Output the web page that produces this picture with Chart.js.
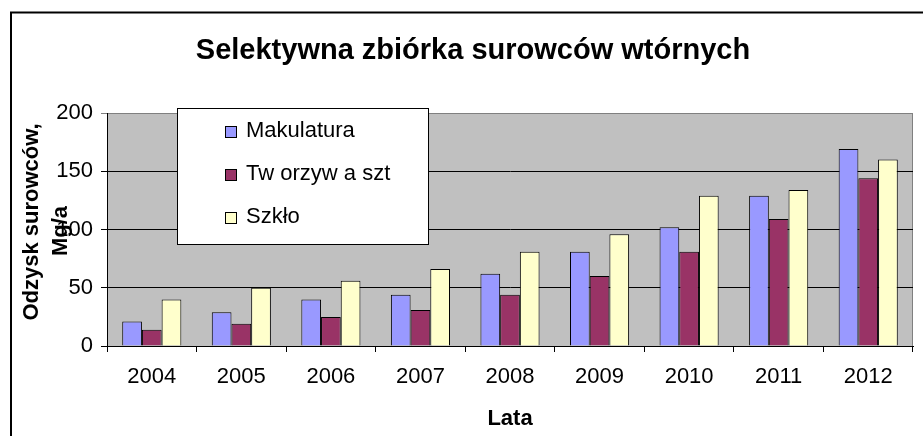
<!DOCTYPE html>
<html>
<head>
<meta charset="utf-8">
<script src="https://cdn.jsdelivr.net/npm/chart.js@4.4.1/dist/chart.umd.min.js"></script>
<style>
  html, body { margin: 0; padding: 0; background: #fff; }
  canvas { display: block; }
</style>
</head>
<body>
<canvas id="chart" width="923" height="436"></canvas>
<script>
const years = ["2004", "2005", "2006", "2007", "2008", "2009", "2010", "2011", "2012"];
const makulatura = [21, 29, 40, 44, 62, 81, 102, 129, 169];
const tworzywa = [14, 19, 25, 31, 44, 60, 81, 109, 144];
const szklo = [40, 50, 56, 66, 81, 96, 129, 134, 160];
const seriesNames = ["Makulatura", "Tw orzyw a szt", "Szkło"];
const seriesColors = ["#9999FF", "#993366", "#FFFFCC"];

const FONT = '"Liberation Sans", Arial, sans-serif';

// frame, plot background, titles and the legend box
const excelLook = {
  id: "excelLook",
  beforeDraw(chart) {
    const ctx = chart.ctx;
    const a = chart.chartArea;
    ctx.save();
    ctx.fillStyle = "#fff";
    ctx.fillRect(0, 0, chart.width, chart.height);
    ctx.strokeStyle = "#000";
    ctx.lineWidth = 2;
    ctx.strokeRect(11, 12.5, 1000, 1000);
    ctx.fillStyle = "#C0C0C0";
    ctx.fillRect(a.left, a.top, a.right - a.left, a.bottom - a.top);
    ctx.strokeStyle = "#808080";
    ctx.lineWidth = 1;
    ctx.strokeRect(a.left + 0.5, a.top + 0.5, a.right - a.left - 1, a.bottom - a.top);
    ctx.restore();
  },
  afterDraw(chart) {
    const ctx = chart.ctx;
    const a = chart.chartArea;
    ctx.save();
    ctx.fillStyle = "#000";
    ctx.textAlign = "center";
    ctx.textBaseline = "middle";

    ctx.font = "bold 29px " + FONT;
    ctx.fillText("Selektywna zbiórka surowców wtórnych", 473, 51);

    ctx.font = "bold 22px " + FONT;
    ctx.fillText("Lata", (a.left + a.right) / 2, 419);

    ctx.save();
    ctx.translate(32, 222);
    ctx.rotate(-Math.PI / 2);
    ctx.fillText("Odzysk surowców,", 0, 0);
    ctx.restore();
    ctx.save();
    ctx.translate(61, 231);
    ctx.rotate(-Math.PI / 2);
    ctx.fillText("Mg/a", 0, 0);
    ctx.restore();

    // legend
    const lx = 177, ly = 108, lw = 251, lh = 136;
    ctx.fillStyle = "#fff";
    ctx.fillRect(lx, ly, lw, lh);
    ctx.strokeStyle = "#000";
    ctx.lineWidth = 1;
    ctx.strokeRect(lx + 0.5, ly + 0.5, lw, lh);
    ctx.font = "22px " + FONT;
    ctx.textAlign = "left";
    chart.data.datasets.forEach((ds, i) => {
      const cy = 131 + i * 43;
      ctx.fillStyle = ds.backgroundColor;
      ctx.fillRect(225, cy - 5, 11, 11);
      ctx.strokeStyle = "#000";
      ctx.strokeRect(225.5, cy - 4.5, 11, 11);
      ctx.fillStyle = "#000";
      ctx.fillText(ds.label, 246, cy);
    });
    ctx.restore();
  }
};

new Chart(document.getElementById("chart"), {
  type: "bar",
  data: {
    labels: years,
    datasets: [
      { label: seriesNames[0], data: makulatura, backgroundColor: seriesColors[0] },
      { label: seriesNames[1], data: tworzywa, backgroundColor: seriesColors[1] },
      { label: seriesNames[2], data: szklo, backgroundColor: seriesColors[2] }
    ]
  },
  options: {
    responsive: false,
    animation: false,
    devicePixelRatio: 1,
    layout: { padding: { left: 0, top: 113, right: 10, bottom: 0 } },
    datasets: {
      bar: {
        categoryPercentage: 0.66,
        barPercentage: 1.0,
        borderWidth: 1,
        borderColor: "#000"
      }
    },
    plugins: {
      legend: { display: false },
      title: { display: false },
      tooltip: { enabled: false }
    },
    scales: {
      x: {
        afterFit: s => { s.height = 90; },
        grid: { offset: true, drawOnChartArea: false, tickLength: 6, color: "#000" },
        border: { color: "#000" },
        ticks: { color: "#000", padding: 12, font: { family: FONT, size: 22 } }
      },
      y: {
        min: 0,
        max: 200,
        afterFit: s => { s.width = 107; },
        grid: {
          tickLength: 6,
          color: ctx => (ctx.tick && ctx.tick.value === 200 ? "#808080" : "#000")
        },
        border: { color: "#000" },
        ticks: { stepSize: 50, color: "#000", padding: 8, font: { family: FONT, size: 22 } }
      }
    }
  },
  plugins: [excelLook]
});
</script>
</body>
</html>
